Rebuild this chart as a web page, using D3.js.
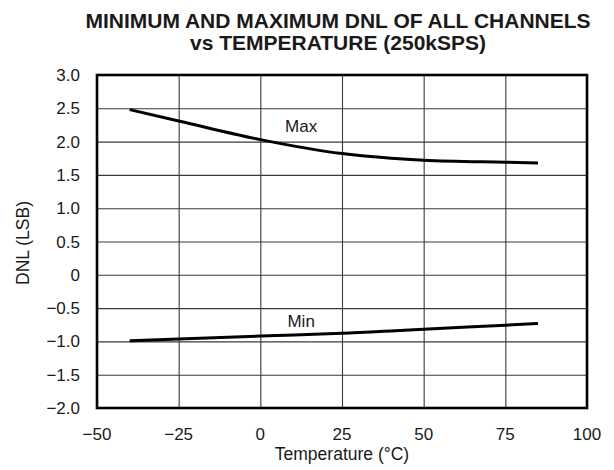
<!DOCTYPE html>
<html>
<head>
<meta charset="utf-8">
<script src="https://cdn.jsdelivr.net/npm/d3@7"></script>
<style>
  body { margin: 0; background: #fff; }
  text { font-family: "Liberation Sans", Arial, sans-serif; fill: #1a1a1a; }
</style>
</head>
<body>
<script>
// data
var temps = [-40, -25, 0, 25, 40, 50, 75, 85];
var maxDnl = [2.48, 2.31, 2.03, 1.82, 1.75, 1.72, 1.69, 1.68];
var minDnl = [-0.99, -0.965, -0.92, -0.876, -0.845, -0.816, -0.757, -0.73];
var xTicks = [-50, -25, 0, 25, 50, 75, 100];
var yTicks = [-2, -1.5, -1, -0.5, 0, 0.5, 1, 1.5, 2, 2.5, 3];

function draw()
{
    var w = 614, h = 470;
    var x0 = 97, x1 = 587, y0 = 75, y1 = 408;

    var svg = d3.select("body").append("svg")
        .attr("width", w)
        .attr("height", h);

    var xScale = d3.scaleLinear().domain([-50, 100]).range([x0, x1]);
    var yScale = d3.scaleLinear().domain([-2, 3]).range([y1, y0]);

    function fmtY(v) {
        if (v === 0) return "0";
        return (v < 0 ? "\u2212" : "") + Math.abs(v).toFixed(1);
    }
    function fmtX(v) {
        return (v < 0 ? "\u2212" : "") + Math.abs(v);
    }

    // grid
    svg.append("g")
        .attr("transform", "translate(0," + y1 + ")")
        .call(d3.axisBottom(xScale).tickValues(xTicks).tickSize(-(y1 - y0)).tickFormat(""))
        .call(function(g) { g.select(".domain").remove(); })
        .selectAll("line").attr("stroke", "#3a3a3a").attr("stroke-width", 1.1);

    svg.append("g")
        .attr("transform", "translate(" + x0 + ",0)")
        .call(d3.axisLeft(yScale).tickValues(yTicks).tickSize(-(x1 - x0)).tickFormat(""))
        .call(function(g) { g.select(".domain").remove(); })
        .selectAll("line").attr("stroke", "#3a3a3a").attr("stroke-width", 1.1);

    // frame
    svg.append("rect")
        .attr("x", x0).attr("y", y0)
        .attr("width", x1 - x0).attr("height", y1 - y0)
        .attr("fill", "none").attr("stroke", "#000").attr("stroke-width", 2.6);

    // tick labels
    svg.selectAll(".xl").data(xTicks).enter().append("text")
        .attr("x", function(d) { return xScale(d); })
        .attr("y", y1 + 32)
        .attr("text-anchor", "middle")
        .attr("font-size", 17)
        .text(fmtX);

    svg.selectAll(".yl").data(yTicks).enter().append("text")
        .attr("x", x0 - 17)
        .attr("y", function(d) { return yScale(d) + 6; })
        .attr("text-anchor", "end")
        .attr("font-size", 17)
        .text(fmtY);

    // lines
    var line = d3.line()
        .x(function(d) { return xScale(d[0]); })
        .y(function(d) { return yScale(d[1]); })
        .curve(d3.curveMonotoneX);

    [maxDnl, minDnl].forEach(function(s) {
        svg.append("path")
            .datum(temps.map(function(t, i) { return [t, s[i]]; }))
            .attr("d", line)
            .attr("fill", "none")
            .attr("stroke", "#000")
            .attr("stroke-width", 3);
    });

    svg.append("text").attr("x", xScale(12.5)).attr("y", yScale(2.15)).attr("text-anchor", "middle")
        .attr("font-size", 17).text("Max");
    svg.append("text").attr("x", xScale(12.5)).attr("y", yScale(-0.78)).attr("text-anchor", "middle")
        .attr("font-size", 17).text("Min");

    // titles
    svg.append("text").attr("x", 338).attr("y", 28).attr("text-anchor", "middle")
        .attr("font-size", 21).attr("font-weight", "bold")
        .text("MINIMUM AND MAXIMUM DNL OF ALL CHANNELS");
    svg.append("text").attr("x", 338).attr("y", 50).attr("text-anchor", "middle")
        .attr("font-size", 21).attr("font-weight", "bold")
        .text("vs TEMPERATURE (250kSPS)");

    svg.append("text")
        .attr("x", 342).attr("y", 460)
        .attr("text-anchor", "middle").attr("font-size", 17.5)
        .text("Temperature (\u00B0C)");

    svg.append("text")
        .attr("transform", "translate(29,243) rotate(-90)")
        .attr("text-anchor", "middle").attr("font-size", 17.5)
        .text("DNL (LSB)");
}

draw();
</script>
</body>
</html>
